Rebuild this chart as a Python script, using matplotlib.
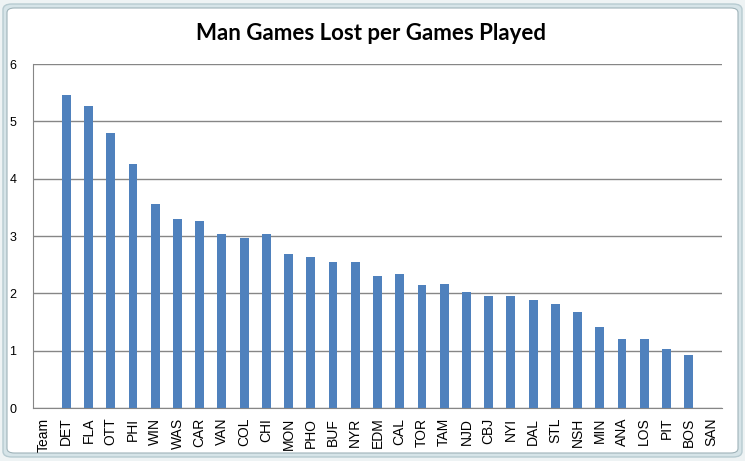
import matplotlib
matplotlib.use("Agg")
import matplotlib.pyplot as plt
from matplotlib.patches import FancyBboxPatch

teams = ["Team", "DET", "FLA", "OTT", "PHI", "WIN", "WAS", "CAR", "VAN", "COL",
         "CHI", "MON", "PHO", "BUF", "NYR", "EDM", "CAL", "TOR", "TAM", "NJD",
         "CBJ", "NYI", "DAL", "STL", "NSH", "MIN", "ANA", "LOS", "PIT", "BOS", "SAN"]
values = [0, 5.46, 5.26, 4.80, 4.26, 3.55, 3.29, 3.27, 3.03, 2.96,
          3.03, 2.68, 2.64, 2.54, 2.54, 2.31, 2.33, 2.14, 2.17, 2.03,
          1.96, 1.96, 1.89, 1.81, 1.68, 1.42, 1.21, 1.21, 1.03, 0.93, 0]
yticks = [0, 1, 2, 3, 4, 5, 6]
title = "Man Games Lost per Games Played"

W, H = 745, 461
fig = plt.figure(figsize=(W / 100, H / 100), dpi=100)
fig.patch.set_facecolor("#eef3f4")

# chart frame
outer = FancyBboxPatch((3 / W, 4 / H), 739 / W, 453 / H,
                       boxstyle="round,pad=0,rounding_size=0.012",
                       transform=fig.transFigure, facecolor="#d6e4e8",
                       edgecolor="#b7cbd1", lw=1, zorder=-2)
inner = FancyBboxPatch((7 / W, 8 / H), 731 / W, 445 / H,
                       boxstyle="round,pad=0,rounding_size=0.01",
                       transform=fig.transFigure, facecolor="white",
                       edgecolor="#9fb3b9", lw=0.8, zorder=-1)
fig.patches.extend([outer, inner])

left, right, top, bottom = 33, 722, 64, 408
ax = fig.add_axes([left / W, 1 - bottom / H, (right - left) / W, (bottom - top) / H])
ax.set_zorder(2)
ax.set_facecolor("white")
x = list(range(len(teams)))
ax.bar(x, values, width=0.4, color="#4f81bd", zorder=3)
ax.set_xlim(-0.5, len(teams) - 0.5)
ax.set_ylim(0, 6)
ax.set_yticks(yticks)
ax.set_yticklabels([str(v) for v in yticks], fontsize=9, family="Liberation Sans")
ax.set_xticks(x)
ax.set_xticklabels(teams, rotation=90, fontsize=10, family="Liberation Sans")
ax.grid(axis="y", color="#868686", lw=1, zorder=1)
ax.set_axisbelow(True)
for s in ["top", "right"]:
    ax.spines[s].set_visible(False)
for s in ["left", "bottom"]:
    ax.spines[s].set_color("#868686")
ax.tick_params(axis="y", length=0, pad=12)
ax.tick_params(axis="x", length=0, pad=7)

fig.text(371 / W, 1 - 34 / H, title, ha="center", va="center",
         fontsize=16, fontweight="bold", family="Lato", zorder=3)

fig.savefig("out.png", dpi=100, facecolor=fig.get_facecolor())
